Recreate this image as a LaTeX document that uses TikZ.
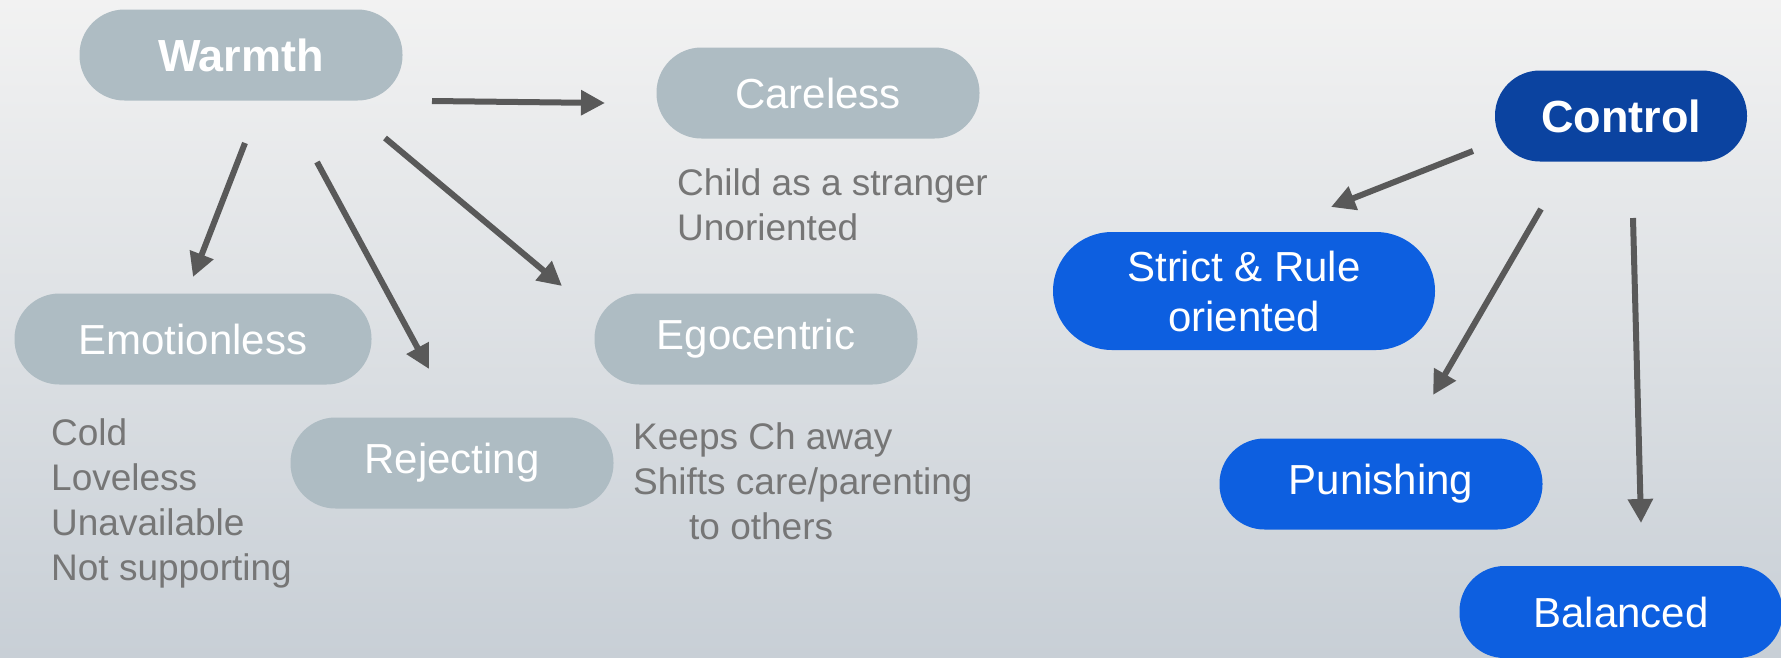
\documentclass[tikz,border=0pt]{standalone}
\usepackage{fontspec}
\setmainfont{Liberation Sans}
\usetikzlibrary{arrows.meta}
\definecolor{bgtop}{HTML}{F2F2F2}
\definecolor{bgbot}{HTML}{C8CFD6}
\definecolor{graybox}{HTML}{AEBCC3}
\definecolor{bluebox}{HTML}{0D5FE0}
\definecolor{darkblue}{HTML}{0B43A0}
\definecolor{arrowgray}{HTML}{595959}
\definecolor{notegray}{HTML}{767676}
\tikzset{
  pill/.style={rectangle, rounded corners=45pt, minimum width=323pt, minimum height=91pt,
    inner sep=0pt, text=white, font=\fontsize{42}{50}\selectfont, align=center},
  graypill/.style={pill, fill=graybox},
  bluepill/.style={pill, fill=bluebox},
  note/.style={anchor=west, inner sep=0pt, align=left, text=notegray,
    font=\fontsize{37}{45}\selectfont},
  arr/.style={draw=arrowgray, line width=6pt, -{Triangle[length=24pt,width=24pt]}}
}
\begin{document}
\begin{tikzpicture}[x=1pt,y=-1pt]
\useasboundingbox (0,0) rectangle (1781,657);
\clip (0,0) rectangle (1781,657);
\shade[top color=bgtop, bottom color=bgbot] (0,0) rectangle (1781,657);

% Warmth side
\node[graypill, font=\fontsize{45}{50}\selectfont\bfseries] (warmth) at (241,55) {Warmth};
\node[graypill] (careless) at (818,93) {Careless};
\node[graypill, minimum width=357pt] (emotionless) at (193,339) {Emotionless};
\node[graypill] (egocentric) at (756,339) {Egocentric};
\node[graypill] (rejecting) at (452,463) {Rejecting};

\node[note] (carelessnote) at (677,205) {Child as a stranger\\Unoriented};
\node[note] (emotionnote) at (51,503) {Cold\\Loveless\\Unavailable\\Not supporting};
\node[note] (egonote) at (633,481) {Keeps Ch away\\Shifts care/parenting\\\hspace*{56pt}to others};

% Control side
\node[pill, fill=darkblue, minimum width=252pt, font=\fontsize{45}{50}\selectfont\bfseries] (control) at (1621,116) {Control};
\node[bluepill, minimum width=382pt, minimum height=118pt, rounded corners=59pt] (strict) at (1244,291) {Strict \& Rule\\oriented};
\node[bluepill] (punishing) at (1381,484) {Punishing};
\node[bluepill, minimum width=323pt, minimum height=92pt] (balanced) at (1621,612) {Balanced};

% arrow end points
\coordinate (wc1) at (432,101);  \coordinate (wc2) at (605,103);
\coordinate (we1) at (245,143);  \coordinate (we2) at (193,277);
\coordinate (wr1) at (317,162);  \coordinate (wr2) at (429,369);
\coordinate (wg1) at (385,138);  \coordinate (wg2) at (562,286);
\coordinate (cs1) at (1473,151); \coordinate (cs2) at (1331,207);
\coordinate (cp1) at (1541,209); \coordinate (cp2) at (1433,395);
\coordinate (cb1) at (1633,218); \coordinate (cb2) at (1641,523);

\draw[arr] (wc1) -- (wc2);
\draw[arr] (we1) -- (we2);
\draw[arr] (wr1) -- (wr2);
\draw[arr] (wg1) -- (wg2);
\draw[arr] (cs1) -- (cs2);
\draw[arr] (cp1) -- (cp2);
\draw[arr] (cb1) -- (cb2);
\end{tikzpicture}
\end{document}
